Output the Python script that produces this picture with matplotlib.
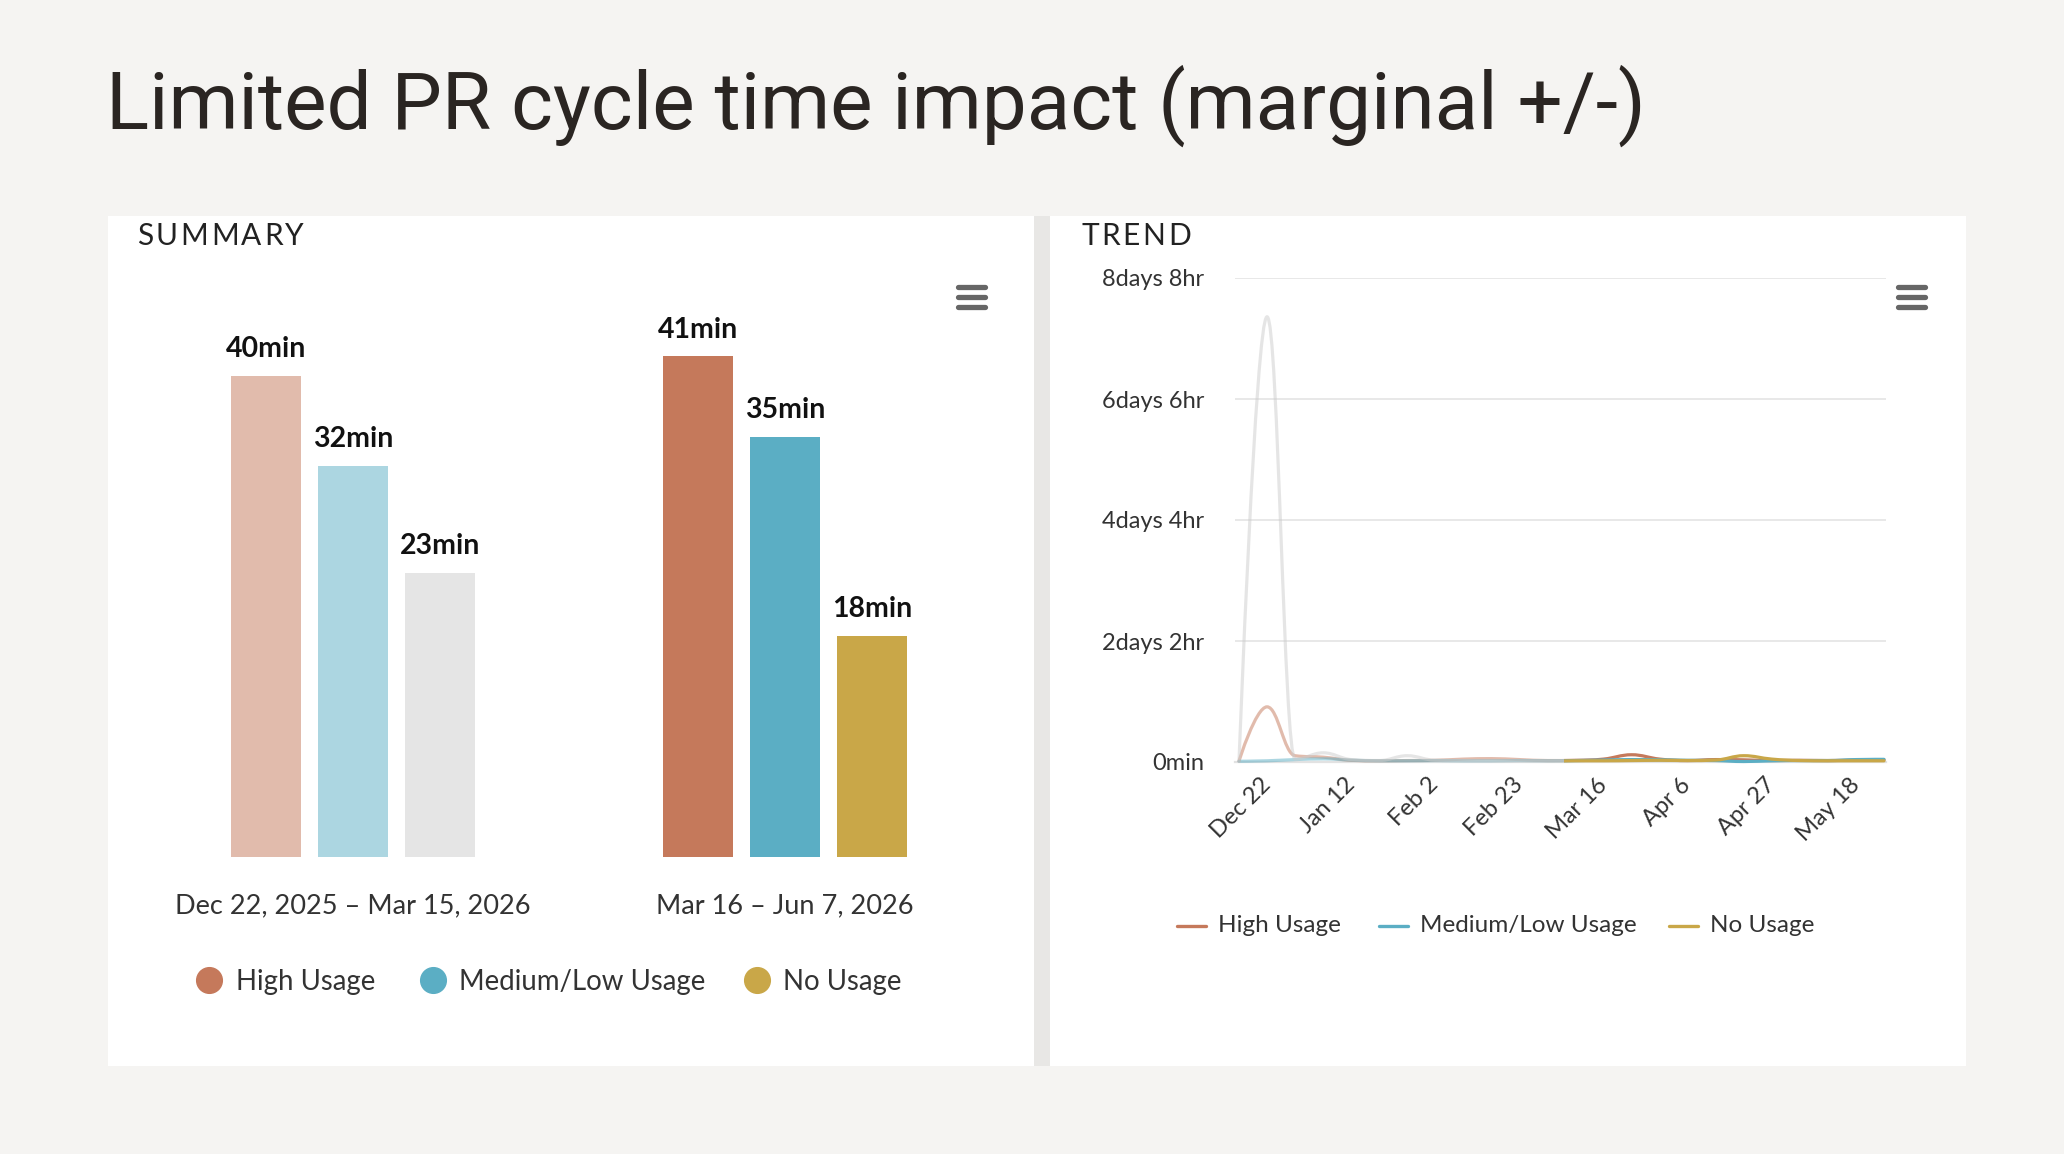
import numpy as np
import pandas as pd
import matplotlib
matplotlib.use("Agg")
import matplotlib.pyplot as plt
import matplotlib.dates as mdates
from matplotlib.path import Path
from matplotlib.patches import PathPatch, Rectangle
from matplotlib.lines import Line2D
from matplotlib.colors import to_rgba

# ---------------- data ----------------
TITLE = "Limited PR cycle time impact (marginal +/-)"
periods = ["Dec 22, 2025 – Mar 15, 2026", "Mar 16 – Jun 7, 2026"]
series_names = ["High Usage", "Medium/Low Usage", "No Usage"]
period1_minutes = [39.6, 32.2, 23.4]
period2_minutes = [41.2, 34.6, 18.2]

trend_start = "2025-12-15"
trend_weeks = 24
high_hours = [0.4, 22.8, 2.6, 2.0, 0.7, 0.5, 0.6, 0.7, 1.2, 1.4, 1.0, 0.6,
              0.7, 1.2, 3.0, 1.2, 0.6, 1.0, 0.9, 0.6, 0.7, 0.6, 0.8, 0.9]
medlow_hours = [0.3, 0.5, 1.0, 1.3, 0.8, 0.5, 0.5, 0.6, 0.5, 0.5, 0.6, 0.5,
                0.6, 0.8, 1.0, 0.9, 0.7, 0.6, 0.2, 0.5, 0.6, 0.6, 1.0, 1.1]
none_hours = [0.2, 184.0, 1.2, 3.8, 1.0, 0.6, 2.6, 0.7, 0.6, 0.5, 0.5, 0.4,
              0.5, 0.5, 0.6, 0.7, 0.6, 0.8, 2.6, 1.2, 0.6, 0.5, 0.5, 0.5]
zone_start = "2026-03-06"

y_ticks_hours = [0, 50, 100, 150, 200]
y_tick_labels = ["0min", "2days 2hr", "4days 4hr", "6days 6hr", "8days 8hr"]
x_tick_dates = ["2025-12-22", "2026-01-12", "2026-02-02", "2026-02-23",
                "2026-03-16", "2026-04-06", "2026-04-27", "2026-05-18"]
x_tick_labels = ["Dec 22", "Jan 12", "Feb 2", "Feb 23", "Mar 16", "Apr 6", "Apr 27", "May 18"]

# ---------------- style ----------------
FULL = ["#C5795B", "#5BAEC4", "#C9A748"]
FADED = [to_rgba("#C5795B", 0.5), to_rgba("#5BAEC4", 0.5), to_rgba("#CCCCCC", 0.5)]
BG = "#F5F4F2"
TXT = "#333333"
FONT = ["Lato", "DejaVu Sans"]

W, H = 2064, 1154
fig = plt.figure(figsize=(W / 100, H / 100), dpi=100)
fig.patch.set_facecolor(BG)
renderer = fig.canvas.get_renderer()


def fx(x):
    return x / W


def fy(y):
    return 1 - y / H


def box(x0, y0, x1, y1):
    return [x0 / W, 1 - y1 / H, (x1 - x0) / W, (y1 - y0) / H]


def rect(x0, y0, x1, y1, color):
    fig.patches.append(Rectangle((fx(x0), fy(y1)), (x1 - x0) / W, (y1 - y0) / H,
                                 transform=fig.transFigure, facecolor=color,
                                 edgecolor="none", zorder=-5))


# panels
rect(108, 216, 1034, 1066, "white")
rect(1034, 216, 1050, 1066, "#E8E7E5")
rect(1050, 216, 1966, 1066, "white")

# title, fitted to the reference width
t = fig.text(fx(106), fy(129), TITLE, fontsize=60, family=["Roboto", "DejaVu Sans"],
             color="#2A2522", va="baseline", ha="left")
w = t.get_window_extent(renderer=renderer).width
t.set_fontsize(60 * 1540 / w)


def spaced(x, y, s, size, gap):
    for ch in s:
        tt = fig.text(fx(x), fy(y), ch, fontsize=size, family=FONT, color="#222222",
                      va="center", ha="left")
        x += tt.get_window_extent(renderer=renderer).width + gap


spaced(137, 236, "SUMMARY", 21.5, 2.6)
spaced(1081, 236, "TREND", 21.5, 2.6)


def hamburger(cx, cy):
    for dy in (-9.7, 0, 9.7):
        fig.add_artist(Line2D([fx(cx - 13.5), fx(cx + 13.5)], [fy(cy + dy)] * 2,
                              transform=fig.transFigure, color="#666666", lw=3.8,
                              solid_capstyle="round"))


hamburger(971, 297)
hamburger(1911, 297)

# ---------------- summary bars ----------------
axb = fig.add_axes(box(130, 300, 1010, 857))
px_per_min = 12.15
axb.set_ylim(0, (857 - 300) / px_per_min)
unit = 432.4
axb.set_xlim(-(352.8 - 130) / unit, 1 + (1010 - 785.2) / unit)
axb.axis("off")
offsets = [-0.201, 0.0, 0.201]
bw = 0.1614
for i in range(3):
    for gi, (vals, cols) in enumerate([(period1_minutes, FADED), (period2_minutes, FULL)]):
        xpos = gi + offsets[i]
        axb.bar(xpos, vals[i], width=bw, color=cols[i], linewidth=0)
        axb.annotate(f"{round(vals[i])}min", (xpos, vals[i]), xytext=(0, 19),
                     textcoords="offset points", ha="center", va="center",
                     fontsize=20.5, fontweight="bold", family=FONT, color="#111111",
                     annotation_clip=False)
for gi, lab in enumerate(periods):
    axb.annotate(lab, (gi, 0), xytext=(0, -35), textcoords="offset points",
                 ha="center", va="center", fontsize=19.5, family=FONT, color=TXT,
                 annotation_clip=False)

# summary legend
for cx, tx, name, col in zip([209, 433, 757], [236, 459, 783], series_names, FULL):
    fig.add_artist(Line2D([fx(cx)], [fy(980)], transform=fig.transFigure, marker="o",
                          markersize=18.5, color=col, linestyle="none"))
    fig.text(fx(tx), fy(982), name, fontsize=19.9, family=FONT, color=TXT,
             va="center", ha="left")

# ---------------- trend ----------------
axt = fig.add_axes(box(1235, 278, 1886, 762))
dates = pd.date_range(trend_start, periods=trend_weeks, freq="7D")
xs = mdates.date2num(dates)
axt.set_xlim(xs[0] - 1.0, xs[-1] + 0.5)
axt.set_ylim(0, 200)
for sp in axt.spines.values():
    sp.set_visible(False)
axt.set_facecolor("none")
axt.set_yticks(y_ticks_hours)
axt.set_yticklabels(y_tick_labels)
axt.set_xticks(mdates.date2num(pd.to_datetime(x_tick_dates)))
axt.set_xticklabels(x_tick_labels)
axt.tick_params(axis="y", length=0, pad=22, labelsize=17, labelcolor=TXT)
axt.tick_params(axis="x", length=0, pad=14, labelsize=17, labelcolor=TXT)
for lab in axt.get_yticklabels() + axt.get_xticklabels():
    lab.set_family(FONT)
for lab in axt.get_xticklabels():
    lab.set_rotation(45)
    lab.set_ha("right")
    lab.set_va("center")
    lab.set_rotation_mode("anchor")
axt.grid(axis="y", color="#E6E6E6", lw=1.3)
axt.set_axisbelow(True)
axt.axhline(0, color="#E2E2E2", lw=1.6, zorder=1, clip_on=False)


def spline_path(x, y, smoothing=1.5):
    n = len(x)
    lc = [None] * n
    rc = [None] * n
    d = smoothing + 1
    for i in range(1, n - 1):
        lx = (smoothing * x[i] + x[i - 1]) / d
        ly = (smoothing * y[i] + y[i - 1]) / d
        rx = (smoothing * x[i] + x[i + 1]) / d
        ry = (smoothing * y[i] + y[i + 1]) / d
        corr = (ry - ly) * (rx - x[i]) / (rx - lx) + y[i] - ry
        ly += corr
        ry += corr
        if ly > y[i - 1] and ly > y[i]:
            ly = max(y[i - 1], y[i]); ry = 2 * y[i] - ly
        elif ly < y[i - 1] and ly < y[i]:
            ly = min(y[i - 1], y[i]); ry = 2 * y[i] - ly
        if ry > y[i + 1] and ry > y[i]:
            ry = max(y[i + 1], y[i]); ly = 2 * y[i] - ry
        elif ry < y[i + 1] and ry < y[i]:
            ry = min(y[i + 1], y[i]); ly = 2 * y[i] - ry
        lc[i] = (lx, ly)
        rc[i] = (rx, ry)
    verts = [(x[0], y[0])]
    codes = [Path.MOVETO]
    for i in range(1, n):
        a = rc[i - 1] if rc[i - 1] is not None else (x[i - 1], y[i - 1])
        b = lc[i] if lc[i] is not None else (x[i], y[i])
        verts += [a, b, (x[i], y[i])]
        codes += [Path.CURVE4] * 3
    return Path(verts, codes)


zx = mdates.date2num(pd.Timestamp(zone_start))
for k, vals in enumerate([high_hours, medlow_hours, none_hours]):
    path = spline_path(list(xs), list(vals))
    for col, (x0, x1) in [(FADED[k], (xs[0] - 5, zx)), (FULL[k], (zx, xs[-1] + 5))]:
        p = PathPatch(path, fill=False, edgecolor=col, lw=2.3, zorder=3 + k,
                      capstyle="round", joinstyle="round")
        axt.add_patch(p)
        clip = Rectangle((x0, -50), x1 - x0, 400, transform=axt.transData)
        p.set_clip_path(clip)

# trend legend
for lx, tx, name, col in zip([1177, 1379, 1669], [1218, 1420, 1710], series_names, FULL):
    fig.add_artist(Line2D([fx(lx), fx(lx + 29)], [fy(926)] * 2, transform=fig.transFigure,
                          color=col, lw=2.4, solid_capstyle="round"))
    fig.text(fx(tx), fy(926), name, fontsize=17.5, family=FONT, color=TXT,
             va="center", ha="left")

fig.savefig("out.png", dpi=100, facecolor=BG)
